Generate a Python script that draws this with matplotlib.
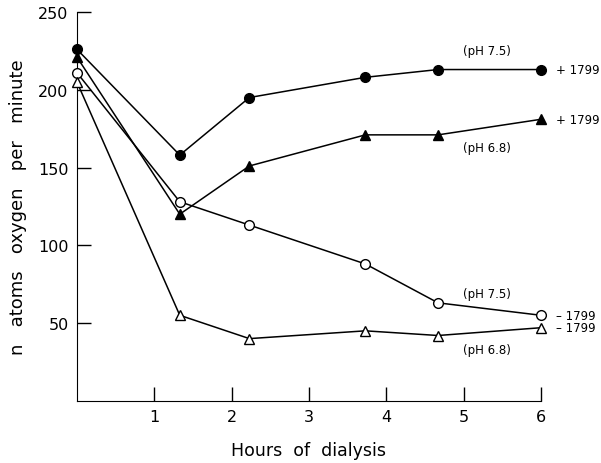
import matplotlib.pyplot as plt

hours = [0, 1.33, 2.23, 3.73, 4.67, 6]

# n atoms oxygen per minute
ph75_plus = [226, 158, 195, 208, 213, 213]
ph68_plus = [221, 120, 151, 171, 171, 181]
ph75_minus = [211, 128, 113, 88, 63, 55]
ph68_minus = [205, 55, 40, 45, 42, 47]

x_ticks = [1, 2, 3, 4, 5, 6]
y_ticks = [50, 100, 150, 200, 250]

plt.rcParams['font.family'] = ['DejaVu Sans']

fig = plt.figure(figsize=(6.01, 4.64), dpi=100)
ax = fig.add_axes([0.128, 0.134, 0.772, 0.838])

kw = dict(color='black', lw=1.1, ms=7, clip_on=False, zorder=3)
ax.plot(hours, ph75_plus, marker='o', mfc='black', **kw)
ax.plot(hours, ph68_plus, marker='^', mfc='black', **kw)
ax.plot(hours, ph75_minus, marker='o', mfc='white', **kw)
ax.plot(hours, ph68_minus, marker='^', mfc='white', **kw)

ax.set_xlim(0, 6)
ax.set_ylim(0, 250)
ax.set_xticks(x_ticks)
ax.set_yticks(y_ticks)
ax.tick_params(direction='in', length=10, width=1, labelsize=11.5, pad=6)
ax.spines['top'].set_visible(False)
ax.spines['right'].set_visible(False)

ax.set_xlabel('Hours  of  dialysis', fontsize=12.5, labelpad=12)
ax.set_ylabel('n   atoms   oxygen   per   minute', fontsize=13, labelpad=8)

fs = 8.5
ax.text(5.3, 225, '(pH 7.5)', fontsize=fs, ha='center', va='center')
ax.text(6.2, 213, '+ 1799', fontsize=fs, ha='left', va='center', clip_on=False)
ax.text(5.3, 163, '(pH 6.8)', fontsize=fs, ha='center', va='center')
ax.text(6.2, 181, '+ 1799', fontsize=fs, ha='left', va='center', clip_on=False)
ax.text(5.3, 69, '(pH 7.5)', fontsize=fs, ha='center', va='center')
ax.text(6.2, 55, '– 1799', fontsize=fs, ha='left', va='center', clip_on=False)
ax.text(6.2, 47, '– 1799', fontsize=fs, ha='left', va='center', clip_on=False)
ax.text(5.3, 33, '(pH 6.8)', fontsize=fs, ha='center', va='center')

fig.savefig('out.png', dpi=100)
